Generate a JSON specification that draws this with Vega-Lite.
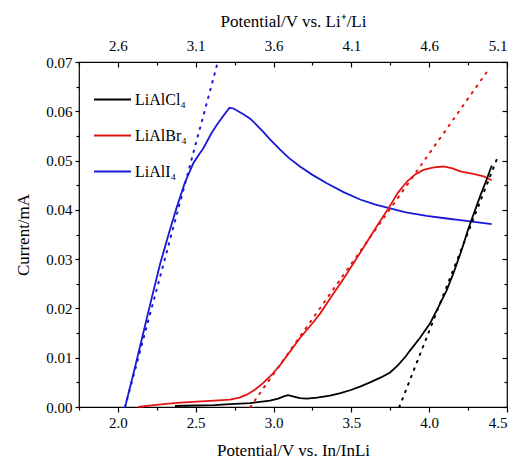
{
  "$schema": "https://vega.github.io/schema/vega-lite/v6.json",
  "width": 428,
  "height": 345,
  "autosize": "none",
  "padding": {"left": 79, "top": 62, "right": 10, "bottom": 52},
  "background": "white",
  "config": {
    "font": "Liberation Serif",
    "view": {"stroke": "black", "strokeWidth": 1.2},
    "axis": {
      "labelFont": "Liberation Serif",
      "titleFont": "Liberation Serif",
      "labelFontSize": 15,
      "titleFontSize": 17,
      "titleFontWeight": "normal",
      "labelColor": "black",
      "titleColor": "black",
      "tickColor": "black",
      "tickWidth": 1.2,
      "domain": false,
      "grid": false
    }
  },
  "datasets": {
    "curves": [
      {"s": "LiAlI₄", "v": 2.046, "i": 0},
      {"s": "LiAlI₄", "v": 2.10, "i": 0.0068},
      {"s": "LiAlI₄", "v": 2.163, "i": 0.0150},
      {"s": "LiAlI₄", "v": 2.22, "i": 0.0225},
      {"s": "LiAlI₄", "v": 2.271, "i": 0.0290},
      {"s": "LiAlI₄", "v": 2.33, "i": 0.0355},
      {"s": "LiAlI₄", "v": 2.378, "i": 0.0405},
      {"s": "LiAlI₄", "v": 2.43, "i": 0.0455},
      {"s": "LiAlI₄", "v": 2.485, "i": 0.0495},
      {"s": "LiAlI₄", "v": 2.52, "i": 0.0512},
      {"s": "LiAlI₄", "v": 2.549, "i": 0.0525},
      {"s": "LiAlI₄", "v": 2.60, "i": 0.0555},
      {"s": "LiAlI₄", "v": 2.635, "i": 0.0572},
      {"s": "LiAlI₄", "v": 2.68, "i": 0.0592},
      {"s": "LiAlI₄", "v": 2.716, "i": 0.0607},
      {"s": "LiAlI₄", "v": 2.74, "i": 0.0606},
      {"s": "LiAlI₄", "v": 2.806, "i": 0.0594},
      {"s": "LiAlI₄", "v": 2.85, "i": 0.0585},
      {"s": "LiAlI₄", "v": 2.892, "i": 0.0572},
      {"s": "LiAlI₄", "v": 2.94, "i": 0.0556},
      {"s": "LiAlI₄", "v": 2.977, "i": 0.0543},
      {"s": "LiAlI₄", "v": 3.042, "i": 0.0522},
      {"s": "LiAlI₄", "v": 3.10, "i": 0.0505},
      {"s": "LiAlI₄", "v": 3.17, "i": 0.0488},
      {"s": "LiAlI₄", "v": 3.25, "i": 0.0471},
      {"s": "LiAlI₄", "v": 3.342, "i": 0.0454},
      {"s": "LiAlI₄", "v": 3.45, "i": 0.0436},
      {"s": "LiAlI₄", "v": 3.556, "i": 0.0421},
      {"s": "LiAlI₄", "v": 3.65, "i": 0.0411},
      {"s": "LiAlI₄", "v": 3.749, "i": 0.0403},
      {"s": "LiAlI₄", "v": 3.85, "i": 0.0395},
      {"s": "LiAlI₄", "v": 3.985, "i": 0.0388},
      {"s": "LiAlI₄", "v": 4.10, "i": 0.0383},
      {"s": "LiAlI₄", "v": 4.199, "i": 0.0379},
      {"s": "LiAlI₄", "v": 4.30, "i": 0.0375},
      {"s": "LiAlI₄", "v": 4.402, "i": 0.0371},
      {"s": "LiAlBr₄", "v": 2.131, "i": 0},
      {"s": "LiAlBr₄", "v": 2.20, "i": 0.0003},
      {"s": "LiAlBr₄", "v": 2.292, "i": 0.0006},
      {"s": "LiAlBr₄", "v": 2.40, "i": 0.0009},
      {"s": "LiAlBr₄", "v": 2.506, "i": 0.0011},
      {"s": "LiAlBr₄", "v": 2.62, "i": 0.0013},
      {"s": "LiAlBr₄", "v": 2.72, "i": 0.0015},
      {"s": "LiAlBr₄", "v": 2.78, "i": 0.0019},
      {"s": "LiAlBr₄", "v": 2.828, "i": 0.0025},
      {"s": "LiAlBr₄", "v": 2.88, "i": 0.0035},
      {"s": "LiAlBr₄", "v": 2.934, "i": 0.0049},
      {"s": "LiAlBr₄", "v": 2.99, "i": 0.0066},
      {"s": "LiAlBr₄", "v": 3.042, "i": 0.0085},
      {"s": "LiAlBr₄", "v": 3.10, "i": 0.0110},
      {"s": "LiAlBr₄", "v": 3.17, "i": 0.0140},
      {"s": "LiAlBr₄", "v": 3.25, "i": 0.0170},
      {"s": "LiAlBr₄", "v": 3.30, "i": 0.0190},
      {"s": "LiAlBr₄", "v": 3.384, "i": 0.0230},
      {"s": "LiAlBr₄", "v": 3.45, "i": 0.0260},
      {"s": "LiAlBr₄", "v": 3.50, "i": 0.0285},
      {"s": "LiAlBr₄", "v": 3.567, "i": 0.0318},
      {"s": "LiAlBr₄", "v": 3.65, "i": 0.0360},
      {"s": "LiAlBr₄", "v": 3.738, "i": 0.0403},
      {"s": "LiAlBr₄", "v": 3.80, "i": 0.0435},
      {"s": "LiAlBr₄", "v": 3.856, "i": 0.0457},
      {"s": "LiAlBr₄", "v": 3.91, "i": 0.0472},
      {"s": "LiAlBr₄", "v": 3.963, "i": 0.0481},
      {"s": "LiAlBr₄", "v": 4.03, "i": 0.0486},
      {"s": "LiAlBr₄", "v": 4.091, "i": 0.0488},
      {"s": "LiAlBr₄", "v": 4.15, "i": 0.0484},
      {"s": "LiAlBr₄", "v": 4.199, "i": 0.0478},
      {"s": "LiAlBr₄", "v": 4.284, "i": 0.0473},
      {"s": "LiAlBr₄", "v": 4.35, "i": 0.0468},
      {"s": "LiAlBr₄", "v": 4.402, "i": 0.0460},
      {"s": "LiAlCl₄", "v": 2.367, "i": 0.0002},
      {"s": "LiAlCl₄", "v": 2.50, "i": 0.0003},
      {"s": "LiAlCl₄", "v": 2.62, "i": 0.0004},
      {"s": "LiAlCl₄", "v": 2.72, "i": 0.0006},
      {"s": "LiAlCl₄", "v": 2.85, "i": 0.0008},
      {"s": "LiAlCl₄", "v": 2.977, "i": 0.0013},
      {"s": "LiAlCl₄", "v": 3.03, "i": 0.0017},
      {"s": "LiAlCl₄", "v": 3.07, "i": 0.0022},
      {"s": "LiAlCl₄", "v": 3.095, "i": 0.0024},
      {"s": "LiAlCl₄", "v": 3.13, "i": 0.0021},
      {"s": "LiAlCl₄", "v": 3.17, "i": 0.0018},
      {"s": "LiAlCl₄", "v": 3.213, "i": 0.0017},
      {"s": "LiAlCl₄", "v": 3.28, "i": 0.0019},
      {"s": "LiAlCl₄", "v": 3.363, "i": 0.0023},
      {"s": "LiAlCl₄", "v": 3.43, "i": 0.0028},
      {"s": "LiAlCl₄", "v": 3.492, "i": 0.0034},
      {"s": "LiAlCl₄", "v": 3.56, "i": 0.0042},
      {"s": "LiAlCl₄", "v": 3.62, "i": 0.0050},
      {"s": "LiAlCl₄", "v": 3.69, "i": 0.0060},
      {"s": "LiAlCl₄", "v": 3.749, "i": 0.0070},
      {"s": "LiAlCl₄", "v": 3.80, "i": 0.0085},
      {"s": "LiAlCl₄", "v": 3.85, "i": 0.0103},
      {"s": "LiAlCl₄", "v": 3.878, "i": 0.0115},
      {"s": "LiAlCl₄", "v": 3.94, "i": 0.0140},
      {"s": "LiAlCl₄", "v": 4.006, "i": 0.0170},
      {"s": "LiAlCl₄", "v": 4.06, "i": 0.0203},
      {"s": "LiAlCl₄", "v": 4.113, "i": 0.0237},
      {"s": "LiAlCl₄", "v": 4.16, "i": 0.0275},
      {"s": "LiAlCl₄", "v": 4.21, "i": 0.0320},
      {"s": "LiAlCl₄", "v": 4.25, "i": 0.0360},
      {"s": "LiAlCl₄", "v": 4.284, "i": 0.0390},
      {"s": "LiAlCl₄", "v": 4.33, "i": 0.0430},
      {"s": "LiAlCl₄", "v": 4.37, "i": 0.0462},
      {"s": "LiAlCl₄", "v": 4.402, "i": 0.0490}
    ],
    "fits": [
      {"s": "LiAlI₄", "v": 2.046, "i": 0},
      {"s": "LiAlI₄", "v": 2.64, "i": 0.0698},
      {"s": "LiAlBr₄", "v": 2.85, "i": 0},
      {"s": "LiAlBr₄", "v": 4.38, "i": 0.0684},
      {"s": "LiAlCl₄", "v": 3.808, "i": 0},
      {"s": "LiAlCl₄", "v": 4.445, "i": 0.0511}
    ]
  },
  "resolve": {"axis": {"x": "independent", "y": "independent"}},
  "layer": [
    {
      "data": {"name": "curves"},
      "mark": {"type": "line", "strokeWidth": 1.8},
      "encoding": {
        "x": {"field": "v", "type": "quantitative", "scale": {"domain": [1.75, 4.5], "nice": false, "zero": false},
          "axis": {"orient": "bottom", "values": [2, 2.5, 3, 3.5, 4, 4.5], "format": ".1f", "tickSize": 5, "labelPadding": 3, "title": "Potential/V vs. In/InLi", "titlePadding": 12}},
        "y": {"field": "i", "type": "quantitative", "scale": {"domain": [0, 0.07], "nice": false},
          "axis": {"orient": "left", "values": [0, 0.01, 0.02, 0.03, 0.04, 0.05, 0.06, 0.07], "format": ".2f", "tickSize": 4, "labelPadding": 3, "title": "Current/mA", "titlePadding": 13}},
        "color": {"field": "s", "type": "nominal", "scale": {"domain": ["LiAlCl₄", "LiAlBr₄", "LiAlI₄"], "range": ["#000000", "#e41414", "#1818d8"]},
          "legend": {"title": null, "orient": "none", "legendX": 14, "legendY": 18, "symbolType": "stroke", "symbolSize": 1369, "symbolStrokeWidth": 1.8, "labelFontSize": 16, "labelFont": "Liberation Serif", "labelColor": "black", "rowPadding": 8, "labelOffset": 3, "padding": 0}}
      }
    },
    {
      "data": {"name": "fits"},
      "mark": {"type": "line", "strokeWidth": 2, "strokeDash": [1.5, 6.5], "strokeCap": "round"},
      "encoding": {
        "x": {"field": "v", "type": "quantitative", "scale": {"domain": [1.75, 4.5], "nice": false, "zero": false}, "axis": null},
        "y": {"field": "i", "type": "quantitative", "scale": {"domain": [0, 0.07], "nice": false}, "axis": null},
        "color": {"field": "s", "type": "nominal", "scale": {"domain": ["LiAlCl₄", "LiAlBr₄", "LiAlI₄"], "range": ["#000000", "#e41414", "#1818d8"]}}
      }
    },
    {
      "data": {"name": "fits"},
      "mark": {"type": "point", "opacity": 0, "size": 0},
      "encoding": {
        "x": {"field": "v", "type": "quantitative", "scale": {"domain": [1.75, 4.5], "nice": false, "zero": false},
          "axis": {"orient": "top", "values": [2, 2.5, 3, 3.5, 4, 4.5], "labelExpr": "format(datum.value + 0.6, '.1f')", "tickSize": -5, "labelPadding": 14, "title": "Potential/V vs. Li⁺/Li", "titlePadding": 8}},
        "y": {"field": "i", "type": "quantitative", "scale": {"domain": [0, 0.07], "nice": false},
          "axis": {"orient": "right", "values": [0, 0.01, 0.02, 0.03, 0.04, 0.05, 0.06, 0.07], "labels": false, "tickSize": -5, "title": null}}
      }
    },
    {
      "data": {"name": "fits"},
      "mark": {"type": "point", "opacity": 0, "size": 0},
      "encoding": {
        "x": {"field": "v", "type": "quantitative", "scale": {"domain": [1.75, 4.5], "nice": false, "zero": false},
          "axis": {"orient": "top", "values": [1.75, 2.25, 2.75, 3.25, 3.75, 4.25], "labels": false, "tickSize": -3, "title": null}},
        "y": {"field": "i", "type": "quantitative", "scale": {"domain": [0, 0.07], "nice": false},
          "axis": {"orient": "right", "values": [0.005, 0.015, 0.025, 0.035, 0.045, 0.055, 0.065], "labels": false, "tickSize": -3, "title": null}}
      }
    },
    {
      "data": {"name": "fits"},
      "mark": {"type": "point", "opacity": 0, "size": 0},
      "encoding": {
        "x": {"field": "v", "type": "quantitative", "scale": {"domain": [1.75, 4.5], "nice": false, "zero": false},
          "axis": {"orient": "bottom", "values": [1.75, 2.25, 2.75, 3.25, 3.75, 4.25], "labels": false, "tickSize": 3, "title": null}},
        "y": {"field": "i", "type": "quantitative", "scale": {"domain": [0, 0.07], "nice": false},
          "axis": {"orient": "left", "values": [0.005, 0.015, 0.025, 0.035, 0.045, 0.055, 0.065], "labels": false, "tickSize": 3, "title": null}}
      }
    }
  ]
}
